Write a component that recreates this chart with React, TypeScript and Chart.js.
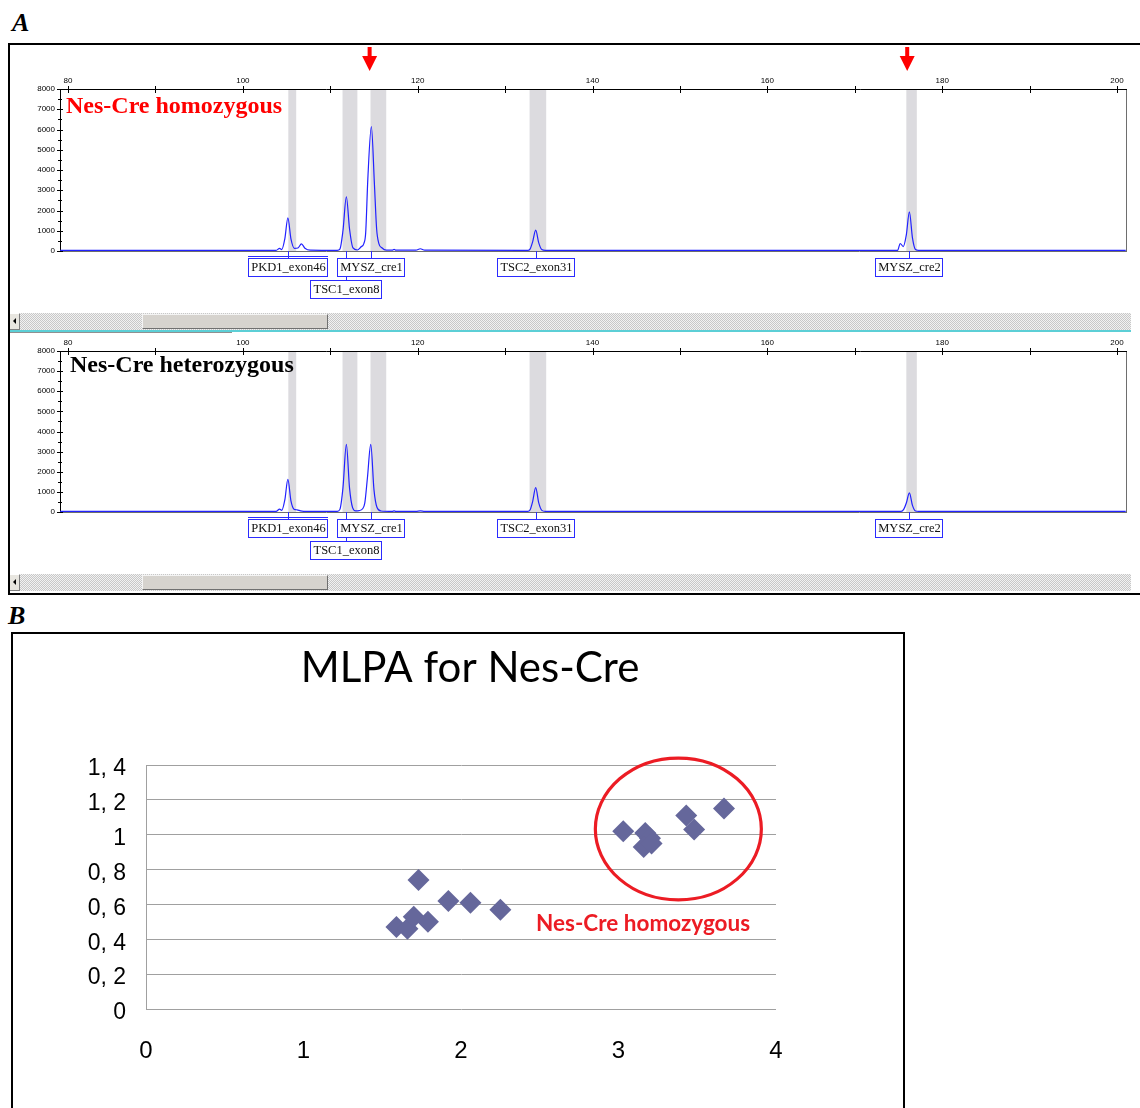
import React, { useEffect, useRef } from 'react';
import { Chart, registerables } from 'chart.js';

Chart.register(...registerables);

// ---------- Part A: electropherogram data ----------
const sizeAxisMin = 79.08;
const sizeAxisMax = 201.03;
const heightAxisMax = 8000;

const probeNames = ['PKD1_exon46', 'TSC1_exon8', 'MYSZ_cre1', 'TSC2_exon31', 'MYSZ_cre2'];
const probeSizes = [105.15, 111.84, 114.7, 133.5, 176.25];
const probeRows = [0, 1, 0, 0, 0];

const binStarts = [105.2, 111.4, 114.6, 132.8, 175.9];
const binEnds = [106.1, 113.1, 116.4, 134.7, 177.1];

const arrowSizes = [114.5, 176.0];

const homozygousTrace: [number, number][] = [
  [79.1, 30], [103.8, 30], [104.2, 130], [104.45, 70], [104.8, 600], [105.15, 1640], [105.5, 600],
  [105.9, 130], [106.3, 150], [106.7, 350], [107.1, 140], [107.7, 40], [110.8, 30], [111.1, 90],
  [111.45, 1000], [111.84, 2680], [112.2, 1100], [112.6, 150], [113.1, 50], [113.5, 200], [113.85, 380],
  [114.05, 900], [114.3, 3600], [114.7, 6140], [115.05, 3300], [115.3, 1100], [115.55, 380], [115.9, 160],
  [116.4, 40], [117.1, 40], [117.3, 80], [117.5, 40], [119.8, 40], [120.3, 110], [120.8, 40],
  [132.6, 30], [132.85, 90], [133.15, 450], [133.5, 1030], [133.85, 400], [134.2, 70], [134.6, 30],
  [174.9, 30], [175.2, 370], [175.55, 220], [175.9, 800], [176.25, 1930], [176.6, 650], [176.95, 70],
  [177.3, 30], [201.0, 30],
];

const heterozygousTrace: [number, number][] = [
  [79.1, 30], [103.8, 30], [104.2, 140], [104.45, 80], [104.8, 600], [105.15, 1625], [105.5, 550],
  [105.85, 140], [106.2, 110], [106.6, 60], [107.3, 30], [110.8, 30], [111.1, 130], [111.45, 1200],
  [111.84, 3360], [112.2, 1200], [112.55, 220], [112.9, 60], [113.3, 70], [113.7, 160], [113.95, 450],
  [114.25, 1700], [114.63, 3360], [115.0, 1100], [115.35, 220], [115.8, 50], [117.1, 30], [117.3, 60],
  [117.5, 30], [119.8, 30], [120.3, 60], [120.8, 30], [132.6, 30], [132.85, 100], [133.15, 520],
  [133.5, 1210], [133.85, 450], [134.2, 80], [134.6, 30], [175.3, 30], [175.6, 130], [175.9, 450],
  [176.25, 950], [176.6, 330], [176.95, 50], [177.3, 30], [201.0, 30],
];

// ---------- Part B: MLPA scatter data ----------
const mlpaTitle = 'MLPA for Nes-Cre';
const mlpaX = [1.59, 1.66, 1.7, 1.79, 1.73, 1.92, 2.06, 2.25, 3.03, 3.17, 3.2, 3.16, 3.21, 3.43, 3.48, 3.67];
const mlpaY = [0.47, 0.46, 0.53, 0.5, 0.74, 0.62, 0.61, 0.57, 1.02, 1.01, 0.98, 0.93, 0.95, 1.11, 1.03, 1.15];
const ellipseCenter = [3.38, 1.033];
const ellipseRadii = [0.527, 0.407];
const annotationText = 'Nes-Cre homozygous';
const annotationAt = [3.156, 0.49];

// ---------- plugins ----------
const tracePlugin = {
  id: 'tracePanel',
  beforeDatasetsDraw(chart: any) {
    const { ctx, chartArea: a, scales } = chart;
    const x = scales.x;
    ctx.save();
    ctx.fillStyle = '#dcdbdf';
    binStarts.forEach((s, i) => {
      const x0 = x.getPixelForValue(s);
      const x1 = x.getPixelForValue(binEnds[i]);
      ctx.fillRect(x0, a.top, x1 - x0, a.bottom - a.top);
    });
    ctx.lineWidth = 1;
    ctx.strokeStyle = '#6e6e6e';
    ctx.beginPath();
    ctx.moveTo(Math.round(a.right) + 0.5, a.top);
    ctx.lineTo(Math.round(a.right) + 0.5, a.bottom + 1);
    ctx.moveTo(a.left, Math.round(a.bottom) + 0.5);
    ctx.lineTo(a.right, Math.round(a.bottom) + 0.5);
    ctx.stroke();
    ctx.strokeStyle = '#000';
    ctx.beginPath();
    ctx.moveTo(a.left, Math.round(a.top) + 0.5);
    ctx.lineTo(a.right + 1, Math.round(a.top) + 0.5);
    ctx.moveTo(Math.round(a.left) + 0.5, a.top);
    ctx.lineTo(Math.round(a.left) + 0.5, a.bottom + 1);
    ctx.stroke();
    ctx.restore();
  },
  afterDraw(chart: any, _a: any, o: any) {
    const { ctx, chartArea: a, scales } = chart;
    const x = scales.x;
    const y = scales.y;
    ctx.save();
    ctx.strokeStyle = '#000';
    ctx.lineWidth = 1;
    ctx.beginPath();
    y.ticks.forEach((t: any) => {
      const py = Math.round(y.getPixelForValue(t.value)) + 0.5;
      const major = t.value % 1000 === 0;
      ctx.moveTo(a.left - (major ? 3 : 2), py);
      ctx.lineTo(a.left + (major ? 3 : 2), py);
    });
    x.ticks.forEach((t: any) => {
      const px = Math.round(x.getPixelForValue(t.value)) + 0.5;
      ctx.moveTo(px, a.top - 3);
      ctx.lineTo(px, a.top + 4);
    });
    ctx.stroke();

    ctx.font = '12.5px "Liberation Serif"';
    ctx.strokeStyle = '#2b2bff';
    ctx.beginPath();
    probeSizes.forEach((s, i) => {
      const cx = Math.round(x.getPixelForValue(s)) + 0.5;
      const top = a.bottom + (probeRows[i] === 0 ? 7 : 29);
      ctx.moveTo(cx, a.bottom);
      ctx.lineTo(cx, top);
    });
    ctx.stroke();
    ctx.textAlign = 'center';
    ctx.textBaseline = 'middle';
    probeNames.forEach((name, i) => {
      const cx = Math.round(x.getPixelForValue(probeSizes[i]));
      const top = Math.round(a.bottom + (probeRows[i] === 0 ? 7 : 29));
      const w = Math.round(ctx.measureText(name).width + 5);
      const left = cx - Math.round(w / 2);
      ctx.fillStyle = '#fff';
      ctx.fillRect(left, top, w, 18);
      ctx.strokeStyle = '#2b2bff';
      ctx.strokeRect(left + 0.5, top + 0.5, w, 18);
      if (i === 0) {
        ctx.beginPath();
        ctx.moveTo(left, top - 1.5);
        ctx.lineTo(left + w + 1, top - 1.5);
        ctx.stroke();
      }
      ctx.fillStyle = '#111';
      ctx.fillText(name, cx + 0.5, top + 10);
    });

    if (o.arrows) {
      ctx.fillStyle = '#ff0000';
      arrowSizes.forEach((s) => {
        const cx = x.getPixelForValue(s);
        ctx.fillRect(cx - 2, a.top - 42, 4, 10);
        ctx.beginPath();
        ctx.moveTo(cx - 7.5, a.top - 33);
        ctx.lineTo(cx + 7.5, a.top - 33);
        ctx.lineTo(cx, a.top - 18);
        ctx.closePath();
        ctx.fill();
      });
    }

    ctx.font = 'bold 24px "Liberation Serif"';
    ctx.textAlign = 'left';
    ctx.textBaseline = 'alphabetic';
    ctx.fillStyle = o.titleColor;
    ctx.fillText(o.title, a.left + o.titleDx, a.top + o.titleDy);
    ctx.restore();
  },
};

const mlpaPlugin = {
  id: 'mlpaDecor',
  afterDraw(chart: any) {
    const { ctx, scales } = chart;
    const x = scales.x;
    const y = scales.y;
    ctx.save();
    ctx.font = '42px Lato';
    ctx.fillStyle = '#000';
    ctx.textAlign = 'center';
    ctx.textBaseline = 'alphabetic';
    ctx.fillText(mlpaTitle, 457, 48);

    const cx = x.getPixelForValue(ellipseCenter[0]);
    const cy = y.getPixelForValue(ellipseCenter[1]);
    const rx = x.getPixelForValue(ellipseCenter[0] + ellipseRadii[0]) - cx;
    const ry = cy - y.getPixelForValue(ellipseCenter[1] + ellipseRadii[1]);
    ctx.beginPath();
    ctx.ellipse(cx, cy, rx, ry, 0, 0, Math.PI * 2);
    ctx.strokeStyle = '#ec1c24';
    ctx.lineWidth = 3.2;
    ctx.stroke();

    ctx.font = 'bold 22.5px Lato';
    ctx.fillStyle = '#ec1c24';
    ctx.textBaseline = 'middle';
    ctx.fillText(annotationText, x.getPixelForValue(annotationAt[0]), y.getPixelForValue(annotationAt[1]));
    ctx.restore();
  },
};

// ---------- components ----------
type PanelProps = {
  trace: [number, number][];
  title: string;
  titleColor: string;
  titleDx: number;
  titleDy: number;
  arrows: boolean;
  left: number;
  top: number;
  width: number;
  height: number;
  padTop: number;
  axisH: number;
};

function TracePanel(p: PanelProps) {
  const ref = useRef<HTMLCanvasElement>(null);
  useEffect(() => {
    const chart = new Chart(ref.current as HTMLCanvasElement, {
      type: 'line',
      data: {
        datasets: [
          {
            data: p.trace.map(([x, y]) => ({ x, y })),
            borderColor: '#2222ff',
            borderWidth: 1.2,
            pointRadius: 0,
            cubicInterpolationMode: 'monotone',
            fill: false,
          } as any,
        ],
      },
      options: {
        animation: false,
        responsive: false,
        maintainAspectRatio: false,
        events: [],
        layout: { padding: { left: 10, right: 14, top: p.padTop, bottom: 61 } },
        plugins: {
          legend: { display: false },
          tooltip: { enabled: false },
          tracePanel: { title: p.title, titleColor: p.titleColor, titleDx: p.titleDx, titleDy: p.titleDy, arrows: p.arrows },
        } as any,
        scales: {
          x: {
            type: 'linear',
            position: 'top',
            min: sizeAxisMin,
            max: sizeAxisMax,
            afterFit: (s: any) => {
              s.height = p.axisH;
            },
            ticks: {
              stepSize: 10,
              includeBounds: false,
              autoSkip: false,
              maxRotation: 0,
              maxTicksLimit: 1000,
              padding: 3,
              color: '#000',
              font: { family: 'Liberation Sans', size: 8 },
              callback: (v: any) => (Number(v) % 20 === 0 ? String(v) : ''),
            },
            grid: { display: false, drawTicks: false },
            border: { display: false },
          },
          y: {
            type: 'linear',
            min: 0,
            max: heightAxisMax,
            afterFit: (s: any) => {
              s.width = 40;
            },
            ticks: {
              stepSize: 500,
              autoSkip: false,
              maxTicksLimit: 1000,
              padding: 5,
              color: '#000',
              font: { family: 'Liberation Sans', size: 8 },
              callback: (v: any) => (Number(v) % 1000 === 0 ? String(v) : ''),
            },
            grid: { display: false, drawTicks: false },
            border: { display: false },
          },
        } as any,
      },
      plugins: [tracePlugin as any],
    });
    return () => chart.destroy();
  }, []);
  return (
    <canvas
      ref={ref}
      width={p.width}
      height={p.height}
      style={{ position: 'absolute', left: p.left, top: p.top, width: p.width, height: p.height }}
    />
  );
}

function MlpaChart() {
  const ref = useRef<HTMLCanvasElement>(null);
  useEffect(() => {
    const chart = new Chart(ref.current as HTMLCanvasElement, {
      type: 'scatter',
      data: {
        datasets: [
          {
            data: mlpaX.map((x, i) => ({ x, y: mlpaY[i] })),
            pointStyle: 'rectRot',
            pointRadius: 11,
            backgroundColor: '#65679b',
            borderWidth: 0,
          },
        ],
      },
      options: {
        animation: false,
        responsive: false,
        maintainAspectRatio: false,
        events: [],
        layout: { padding: { left: 33, right: 127, top: 131, bottom: 39 } },
        plugins: { legend: { display: false }, tooltip: { enabled: false } },
        scales: {
          x: {
            type: 'linear',
            min: 0,
            max: 4,
            afterFit: (s: any) => {
              s.height = 60;
            },
            ticks: {
              stepSize: 1,
              padding: 28,
              color: '#000',
              font: { family: 'Liberation Sans', size: 24 },
            },
            grid: { display: false, drawTicks: false },
            border: { display: false },
          },
          y: {
            type: 'linear',
            min: 0,
            max: 1.4,
            afterFit: (s: any) => {
              s.width = 100;
            },
            ticks: {
              stepSize: 0.2,
              padding: 20,
              labelOffset: 4,
              color: '#000',
              font: { family: 'Liberation Sans', size: 23 },
              callback: (v: any) => {
                const n = Math.round(Number(v) * 10) / 10;
                return Number.isInteger(n) ? String(n) : n.toFixed(1).replace('.', ', ');
              },
            },
            grid: { color: '#a0a0a0', lineWidth: 1, drawTicks: false },
            border: { display: true, color: '#a0a0a0', width: 1 },
          },
        } as any,
      },
      plugins: [mlpaPlugin as any],
    });
    return () => chart.destroy();
  }, []);
  return (
    <canvas
      ref={ref}
      width={890}
      height={474}
      style={{ position: 'absolute', left: 13, top: 634, width: 890, height: 474 }}
    />
  );
}

const checker = 'repeating-conic-gradient(#c8c8c8 0% 25%, #f2f2f2 0% 50%) 0 0 / 2px 2px';

function Scrollbar({ top }: { top: number }) {
  return (
    <>
      <div style={{ position: 'absolute', left: 10, top, width: 1121, height: 17, background: checker }} />
      <div
        style={{
          position: 'absolute',
          left: 10,
          top,
          width: 9,
          height: 15,
          background: '#e8e6e0',
          borderTop: '1px solid #fff',
          borderBottom: '1px solid #808080',
          borderRight: '1px solid #808080',
        }}
      >
        <div
          style={{
            position: 'absolute',
            left: 3,
            top: 4,
            width: 0,
            height: 0,
            borderTop: '3px solid transparent',
            borderBottom: '3px solid transparent',
            borderRight: '3px solid #000',
          }}
        />
      </div>
      <div
        style={{
          position: 'absolute',
          left: 142,
          top: top + 1,
          width: 184,
          height: 13,
          background: '#d6d3ce',
          borderTop: '1px solid #f4f4f4',
          borderLeft: '1px solid #f4f4f4',
          borderBottom: '1px solid #707070',
          borderRight: '1px solid #707070',
        }}
      />
    </>
  );
}

export default function App() {
  return (
    <div
      style={{
        position: 'absolute',
        left: 0,
        top: 0,
        width: 1140,
        height: 1108,
        overflow: 'hidden',
        background: '#fff',
        fontFamily: '"Liberation Serif", serif',
      }}
    >
      <div
        style={{
          position: 'absolute',
          left: 12,
          top: 10,
          fontSize: 26,
          lineHeight: '26px',
          fontWeight: 'bold',
          fontStyle: 'italic',
          fontFamily: '"Liberation Serif", serif',
        }}
      >
        A
      </div>
      <div
        style={{
          position: 'absolute',
          left: 8,
          top: 43,
          width: 1160,
          height: 548,
          border: '2px solid #000',
        }}
      />
      <TracePanel
        trace={homozygousTrace}
        title="Nes-Cre homozygous"
        titleColor="#ff0000"
        titleDx={6}
        titleDy={24}
        arrows={true}
        left={10}
        top={45}
        width={1130}
        height={267}
        padTop={24}
        axisH={20}
      />
      <Scrollbar top={313} />
      <div style={{ position: 'absolute', left: 10, top: 330, width: 1121, height: 2, background: '#5ccfd6' }} />
      <div style={{ position: 'absolute', left: 10, top: 332, width: 222, height: 1, background: '#909090' }} />
      <TracePanel
        trace={heterozygousTrace}
        title="Nes-Cre heterozygous"
        titleColor="#000000"
        titleDx={10}
        titleDy={21}
        arrows={false}
        left={10}
        top={333}
        width={1130}
        height={240}
        padTop={4}
        axisH={14}
      />
      <Scrollbar top={574} />
      <div
        style={{
          position: 'absolute',
          left: 8,
          top: 603,
          fontSize: 26,
          lineHeight: '26px',
          fontWeight: 'bold',
          fontStyle: 'italic',
          fontFamily: '"Liberation Serif", serif',
        }}
      >
        B
      </div>
      <div
        style={{
          position: 'absolute',
          left: 11,
          top: 632,
          width: 890,
          height: 520,
          border: '2px solid #000',
        }}
      />
      <MlpaChart />
    </div>
  );
}
